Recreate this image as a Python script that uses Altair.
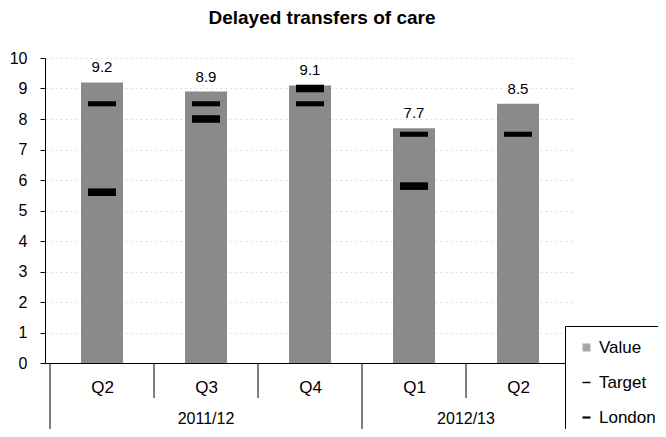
import altair as alt
import pandas as pd

# ---- data ----
years = ["2011/12", "2011/12", "2011/12", "2012/13", "2012/13"]
quarters = ["Q2", "Q3", "Q4", "Q1", "Q2"]
values = [9.2, 8.9, 9.1, 7.7, 8.5]
target = [8.5, 8.5, 8.5, 7.5, 7.5]
london = [5.6, 8.0, 9.0, 5.8, None]
series_names = ["Value", "Target", "London"]

n = len(values)
idx = list(range(n))

bars_df = pd.DataFrame({"idx": idx, "year": years, "quarter": quarters, "value": values})

mark_rows = []
for i in idx:
    mark_rows.append({"idx": i, "series": "Target", "v": target[i]})
    if london[i] is not None:
        mark_rows.append({"idx": i, "series": "London", "v": london[i]})
marks_df = pd.DataFrame(mark_rows)

bound_rows = [{"b": -0.5, "long": True}]
for i in range(n - 1):
    bound_rows.append({"b": i + 0.5, "long": years[i] != years[i + 1]})
bounds_df = pd.DataFrame(bound_rows)

FONT = "Liberation Sans"
W, H = 530, 305

q_list = "[" + ",".join("'%s'" % q for q in quarters) + "]"
xscale = alt.Scale(domain=[-0.5, n - 0.5], nice=False, zero=False)
xaxis = alt.Axis(values=idx, labelExpr=q_list + "[datum.value]", ticks=False, grid=False,
                 title=None, labelFontSize=17, labelPadding=16, domainColor="#000",
                 labelColor="#000", labelFont=FONT)
yscale = alt.Scale(domain=[0, 10], nice=False)
yaxis = alt.Axis(values=list(range(0, 11)), title=None, labelFontSize=16, labelPadding=13,
                 tickSize=5, tickColor="#000", domainColor="#000", labelColor="#000",
                 labelFont=FONT, grid=True, gridDash=[2, 3], gridColor="#dddddd",
                 labelOverlap=False)


def X(field):
    return alt.X(field, scale=xscale, axis=xaxis)


def Y(field):
    return alt.Y(field, scale=yscale, axis=yaxis)


base_bars = alt.Chart(bars_df)

bars = base_bars.mark_bar(size=42, color="#8a8a8a").encode(
    x=X("idx:Q"),
    y=Y("value:Q"),
)

labels = base_bars.mark_text(dy=-7, baseline="bottom", fontSize=15, font=FONT, color="#000").encode(
    x=X("idx:Q"),
    y=Y("value:Q"),
    text=alt.Text("value:Q", format=".1f"),
)

short_rules = alt.Chart(bounds_df).transform_filter("!datum.long").mark_rule(color="#000", strokeWidth=1).encode(
    x=X("b:Q"),
    y=alt.value(H),
    y2=alt.value(H + 35),
)
long_rules = alt.Chart(bounds_df).transform_filter("datum.long").mark_rule(color="#000", strokeWidth=1).encode(
    x=X("b:Q"),
    y=alt.value(H),
    y2=alt.value(H + 80),
)

year_text = base_bars.transform_aggregate(mid="mean(idx)", groupby=["year"]).mark_text(
    fontSize=16, font=FONT, color="#000", baseline="middle"
).encode(
    x=X("mid:Q"),
    y=alt.value(H + 56),
    text="year:N",
)

thin = "M-1,-0.18H1V0.18H-1Z"
thick = "M-1,-0.27H1V0.27H-1Z"

leg = alt.Legend(title=None, orient="none", legendX=520, legendY=268,
                 strokeColor="#000", fillColor="#ffffff", padding=13, rowPadding=17,
                 labelFontSize=17, labelFont=FONT, labelColor="#000",
                 labelOffset=4, symbolSize=64, symbolStrokeWidth=0)

points = alt.Chart(marks_df).mark_point(filled=True, opacity=1, size=784).encode(
    x=X("idx:Q"),
    y=Y("v:Q"),
    color=alt.Color("series:N", scale=alt.Scale(domain=series_names, range=["#a8a8a8", "#000000", "#000000"]),
                    legend=leg),
    shape=alt.Shape("series:N", scale=alt.Scale(domain=series_names, range=["square", thin, thick]),
                    legend=leg),
)

chart = alt.layer(bars, short_rules, long_rules, labels, points, year_text).properties(
    width=W,
    height=H,
    title=alt.TitleParams("Delayed transfers of care", fontSize=19, font=FONT, fontWeight="bold",
                          anchor="middle", offset=22, dx=12, color="#000"),
    autosize=alt.AutoSizeParams(type="none"),
    padding={"left": 37, "top": 50, "right": 83, "bottom": 66},
).configure_view(stroke=None)

chart.save("out.html", embed_options={"renderer": "svg", "actions": False})
